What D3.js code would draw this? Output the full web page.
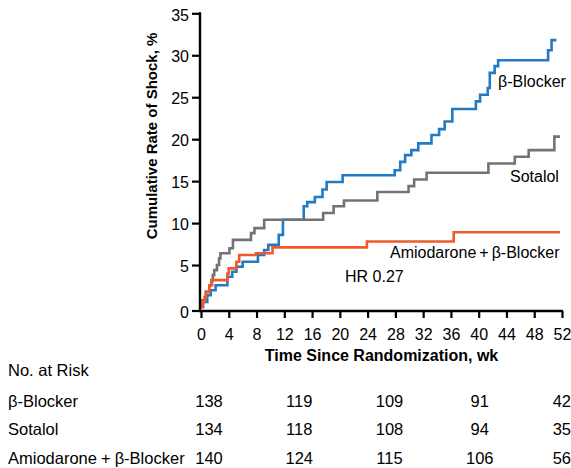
<!DOCTYPE html>
<html>
<head>
<meta charset="utf-8">
<script src="https://cdn.jsdelivr.net/npm/d3@7"></script>
<style>
  html, body { margin: 0; padding: 0; background: #fff; }
  svg { display: block; }
  text { font-family: "Liberation Sans", Arial, Helvetica, sans-serif; fill: #000; }
</style>
</head>
<body>
<svg id="chart" width="571" height="468"></svg>
<script>
// ---------- data ----------
const xTicks = [0, 4, 8, 12, 16, 20, 24, 28, 32, 36, 40, 44, 48, 52];
const yTicks = [0, 5, 10, 15, 20, 25, 30, 35];

const betaWeeks = [0, 0.3, 0.9, 1.4, 2.1, 3.8, 4.5, 5.1, 6.0, 8.2, 9.1, 9.7, 11.2, 11.8, 14.8, 15.3, 16.4, 17.5, 18.1, 20.4, 27.9, 28.7, 29.4, 30.3, 31.3, 33.2, 34.3, 35.1, 36.2, 39.6, 40.2, 41.3, 41.6, 42.3, 42.8, 50.0, 50.5, 51.2];
const betaRates = [0, 0.6, 1.4, 2.0, 2.6, 3.6, 4.2, 4.8, 5.4, 6.2, 6.8, 7.4, 8.6, 10.4, 12.0, 12.5, 13.1, 14.0, 14.9, 15.7, 16.3, 17.3, 18.1, 18.7, 19.5, 20.5, 21.2, 22.1, 23.6, 24.5, 25.3, 26.1, 27.9, 28.7, 29.4, 30.6, 31.8, 31.8];

const sotalolWeeks = [0, 0.2, 0.7, 1.2, 1.5, 1.7, 1.9, 2.3, 2.6, 2.8, 4.1, 4.6, 7.2, 7.7, 9.1, 17.6, 19.1, 20.6, 25.4, 29.9, 30.7, 32.5, 41.4, 45.2, 47.2, 50.9, 51.7];
const sotalolRates = [0, 0.8, 1.8, 2.6, 3.2, 3.8, 4.4, 5.0, 5.8, 6.4, 7.0, 8.0, 8.8, 9.4, 10.4, 11.2, 12.0, 12.7, 13.7, 14.4, 15.2, 16.0, 17.1, 17.9, 18.7, 20.3, 20.3];

const amioWeeks = [0, 0.25, 0.5, 0.7, 1.2, 1.6, 3.8, 4.0, 5.1, 5.5, 7.9, 10.3, 23.9, 36.4, 51.7];
const amioRates = [0, 0.6, 1.2, 1.8, 2.6, 3.2, 4.0, 4.6, 5.4, 6.2, 6.4, 7.1, 7.8, 8.9, 8.9];

const seriesNames = ["β-Blocker", "Sotalol", "Amiodarone+β-Blocker"];
const seriesColors = ["#2379c3", "#737373", "#f05a2a"];

const riskWeeks = [0, 13, 26, 39, 52];
const riskBeta = [138, 119, 109, 91, 42];
const riskSotalol = [134, 118, 108, 94, 35];
const riskAmio = [140, 124, 115, 106, 56];

// ---------- layout ----------
const svg = d3.select("#chart");
const x = d3.scaleLinear().domain([0, 52]).range([201, 562]);
const y = d3.scaleLinear().domain([0, 35]).range([307, 13.3]);
const axisY = 311;

// writes a series name, widening the gap round "+" as in the original typesetting
function seriesLabel(sel, name, gap) {
  const parts = name.split("+");
  if (parts.length === 1) { sel.text(name); return sel; }
  sel.append("tspan").text(parts[0]);
  sel.append("tspan").attr("dx", gap).text("+");
  sel.append("tspan").attr("dx", gap).text(parts[1]);
  return sel;
}

// curves
const series = [
  { name: seriesNames[0], color: seriesColors[0], pts: d3.zip(betaWeeks, betaRates) },
  { name: seriesNames[1], color: seriesColors[1], pts: d3.zip(sotalolWeeks, sotalolRates) },
  { name: seriesNames[2], color: seriesColors[2], pts: d3.zip(amioWeeks, amioRates) }
];
const line = d3.line().x(d => x(d[0])).y(d => y(d[1])).curve(d3.curveStepAfter);
series.forEach(s => {
  svg.append("path")
    .attr("d", line(s.pts))
    .attr("fill", "none")
    .attr("stroke", s.color)
    .attr("stroke-width", 2.6)
    .attr("stroke-linejoin", "miter");
});

// y axis
const gy = svg.append("g").attr("transform", `translate(${x(0) - 1},0)`)
  .call(d3.axisLeft(y).tickValues(yTicks).tickSize(8).tickPadding(3));
gy.select(".domain").remove();
gy.selectAll(".tick").filter(d => d === 0).attr("transform", `translate(0,${axisY})`);
gy.selectAll(".tick line").attr("stroke", "#000").attr("stroke-width", 2.2);
gy.selectAll(".tick text").attr("font-size", 16).attr("dy", "0.42em")
  .style("font-family", "'Liberation Sans', Arial, sans-serif");
gy.append("line").attr("x1", 0).attr("x2", 0).attr("y1", y(35) - 1).attr("y2", axisY + 1)
  .attr("stroke", "#000").attr("stroke-width", 2.4);

// x axis
const gx = svg.append("g").attr("transform", `translate(0,${axisY})`)
  .call(d3.axisBottom(x).tickValues(xTicks).tickSize(7).tickPadding(11));
gx.select(".domain").remove();
gx.append("line").attr("x1", x(0) - 2).attr("x2", x(52) + 1).attr("y1", 0).attr("y2", 0)
  .attr("stroke", "#000").attr("stroke-width", 2.4);
gx.selectAll(".tick line").attr("stroke", "#000").attr("stroke-width", 2.2);
gx.selectAll(".tick text").attr("font-size", 16)
  .style("font-family", "'Liberation Sans', Arial, sans-serif");

// axis titles
svg.append("text")
  .attr("transform", "translate(157,136) rotate(-90)")
  .attr("text-anchor", "middle")
  .attr("font-size", 15).attr("font-weight", "bold")
  .text("Cumulative Rate of Shock, %");
svg.append("text")
  .attr("x", (x(0) + x(52)) / 2).attr("y", 361)
  .attr("text-anchor", "middle")
  .attr("font-size", 16).attr("font-weight", "bold")
  .text("Time Since Randomization, wk");

// in-plot labels
svg.append("text").attr("x", 498).attr("y", 87).attr("font-size", 16).text(seriesNames[0]);
svg.append("text").attr("x", 510).attr("y", 182).attr("font-size", 16).text(seriesNames[1]);
seriesLabel(svg.append("text").attr("x", 390).attr("y", 258).attr("font-size", 16), seriesNames[2], 3);
svg.append("text").attr("x", 345).attr("y", 282).attr("font-size", 16).text("HR 0.27");

// number at risk table
svg.append("text").attr("x", 8).attr("y", 376).attr("font-size", 16.5).text("No. at Risk");
const rows = [riskBeta, riskSotalol, riskAmio];
const rowY = [406.5, 435, 464];
rows.forEach((vals, i) => {
  seriesLabel(svg.append("text").attr("x", 8).attr("y", rowY[i]).attr("font-size", 16.5), seriesNames[i], 4);
  vals.forEach((v, j) => {
    const last = j === vals.length - 1;
    svg.append("text")
      .attr("x", last ? 571 : x(riskWeeks[j]) + 8).attr("y", rowY[i])
      .attr("text-anchor", last ? "end" : "middle").attr("font-size", 16.5)
      .text(v);
  });
});
</script>
</body>
</html>
